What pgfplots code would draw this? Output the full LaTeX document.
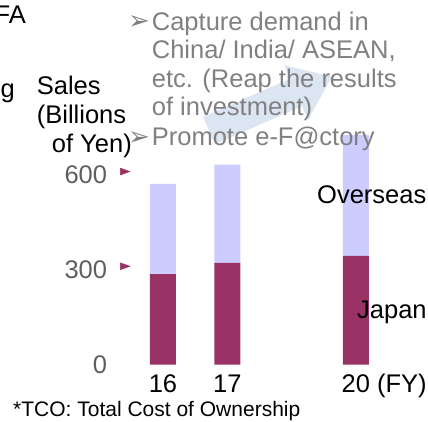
\documentclass[border=0pt]{standalone}
\usepackage{fontspec}
\setmainfont{Liberation Sans}
\newfontfamily\symfont{DejaVu Sans}
\usepackage{pgfplots}
\pgfplotsset{compat=1.18}
\definecolor{japan}{HTML}{993366}
\definecolor{overseas}{HTML}{CCCCFF}
\definecolor{txtgray}{HTML}{808080}
\definecolor{tickgray}{HTML}{5F5F5F}
\definecolor{arrowblue}{HTML}{DCE6F2}

\pgfplotstableread{
x  japan overseas
0  286   286
1  322   311
3  344   383
}\salesdata

\begin{document}
\begin{tikzpicture}[x=1pt,y=1pt,font=\fontsize{25.5}{28.5}\selectfont]
\useasboundingbox (0pt,0pt) rectangle (428pt,421pt);
% background arrow
\begin{scope}[shift={(209pt,290.5pt)}, rotate=23.6]
  \fill[arrowblue] (0pt,-15pt) -- (95pt,-15pt) -- (95pt,-30pt) -- (134pt,0pt) -- (95pt,30pt) -- (95pt,15pt) -- (0pt,15pt) -- cycle;
\end{scope}

\begin{axis}[
  at={(108.3pt,56.5pt)}, anchor=south west,
  scale only axis, width=311.9pt, height=236.85pt,
  xmin=-0.85, xmax=4, ymin=0, ymax=750,
  enlargelimits=false, clip=false,
  ybar stacked, bar width=0.404,
  axis line style={draw=none}, major tick length=0pt,
  xtick={0,1,3}, xticklabels={16,17,{20\rlap{\ (FY)}}},
  ytick={0,300,600},
  /pgf/number format/assume math mode=true,
  ticklabel style={font=\fontsize{25.5}{28.5}\selectfont},
  yticklabel style={anchor=east, inner sep=0pt, xshift=-1pt, text=tickgray},
  xticklabel style={anchor=base, inner sep=0pt, yshift=-27.5pt, text=black},
]
\addplot[fill=japan, draw=none] table[x=x, y=japan] {\salesdata};
\addplot[fill=overseas, draw=none] table[x=x, y=overseas] {\salesdata};
\end{axis}

\begin{axis}[
  at={(108.3pt,56.5pt)}, anchor=south west,
  scale only axis, width=311.9pt, height=236.85pt,
  xmin=-0.85, xmax=4, ymin=0, ymax=750,
  enlargelimits=false, clip=false, hide axis,
]
\addplot[only marks, mark=triangle*, mark size=4pt, color=japan,
  mark options={xscale=1.6, rotate=-90}] coordinates {(-0.613,311) (-0.613,611)};
\end{axis}

% fragments at the left edge
\node[anchor=base east, inner sep=0pt] at (26pt,397.7pt) {FA};
\node[anchor=base east, inner sep=0pt] at (15pt,323pt) {g};

% axis title
\node[anchor=base west, inner sep=0pt] at (36.7pt,326pt) {Sales};
\node[anchor=base west, inner sep=0pt] at (36.7pt,297.5pt) {(Billions};
\node[anchor=base west, inner sep=0pt] at (51.7pt,269pt) {of Yen)};

% bullet text
\begin{scope}[txtgray]
\node[anchor=base west, inner sep=0pt] at (128pt,391pt) {\symfont\fontsize{26}{28}\selectfont ➢};
\node[anchor=base west, inner sep=0pt] at (151.7pt,390.5pt) {Capture demand in};
\node[anchor=base west, inner sep=0pt] at (151.7pt,362pt) {China/ India/ ASEAN,};
\node[anchor=base west, inner sep=0pt] at (151.7pt,333.5pt) {etc. (Reap the results};
\node[anchor=base west, inner sep=0pt] at (151.7pt,305.5pt) {of investment)};
\node[anchor=base west, inner sep=0pt] at (128pt,275.5pt) {\symfont\fontsize{26}{28}\selectfont ➢};
\node[anchor=base west, inner sep=0pt] at (151.7pt,275pt) {Promote e-F@ctory};
\end{scope}

% series labels
\node[anchor=base west, inner sep=0pt] at (317pt,218pt) {Overseas};
\node[anchor=base west, inner sep=0pt] at (357pt,103pt) {Japan};

% footnote
\node[anchor=base west, inner sep=0pt] at (13pt,4.5pt) {\fontsize{21}{24}\selectfont *TCO: Total Cost of Ownership};
\end{tikzpicture}
\end{document}
